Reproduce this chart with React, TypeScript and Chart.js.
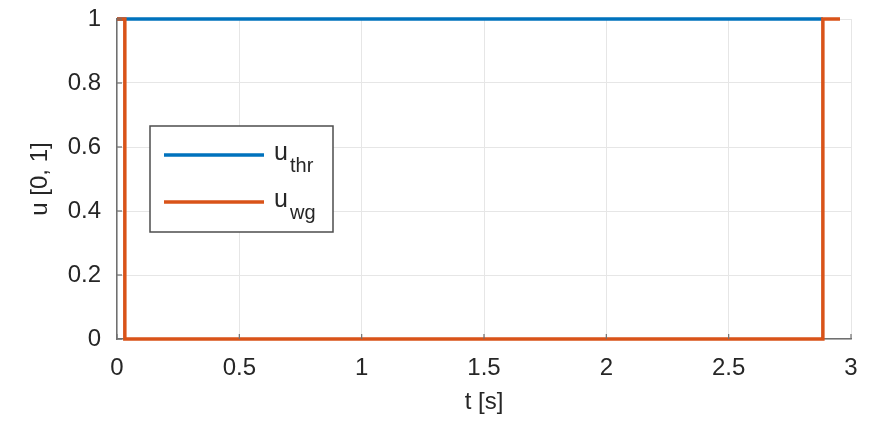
import React, { useEffect, useRef } from "react";
import { Chart, registerables } from "chart.js";

Chart.register(...registerables);

const thrTime = [0, 2.885];
const thrValue = [1, 1];
const wgTime = [0, 0.032, 0.032, 2.885, 2.885, 2.955];
const wgValue = [1, 1, 0, 0, 1, 1];
const xTicks = [0, 0.5, 1, 1.5, 2, 2.5, 3];
const yTicks = [0, 0.2, 0.4, 0.6, 0.8, 1];
const seriesNames = ["thr", "wg"];
const seriesColors = ["#0072BD", "#D95319"];

const FONT = "'Liberation Sans', Arial, Helvetica, sans-serif";
const TEXT = "#262626";

const extras = {
  id: "extras",
  afterDatasetsDraw(chart: any) {
    const { ctx, chartArea, scales } = chart;
    const xs = scales.x;
    const ys = scales.y;
    ctx.save();
    ctx.strokeStyle = "#707070";
    ctx.lineWidth = 1.2;
    xTicks.forEach((v) => {
      const px = xs.getPixelForValue(v);
      ctx.beginPath();
      ctx.moveTo(px, chartArea.bottom);
      ctx.lineTo(px, chartArea.bottom - 5);
      ctx.stroke();
    });
    yTicks.forEach((v) => {
      const py = ys.getPixelForValue(v);
      ctx.beginPath();
      ctx.moveTo(chartArea.left, py);
      ctx.lineTo(chartArea.left + 5, py);
      ctx.stroke();
    });
    const bx = 150, by = 126, bw = 183, bh = 106;
    ctx.fillStyle = "#ffffff";
    ctx.fillRect(bx, by, bw, bh);
    ctx.strokeStyle = "#4d4d4d";
    ctx.lineWidth = 1.5;
    ctx.strokeRect(bx, by, bw, bh);
    const rows = [155, 202];
    rows.forEach((ry, i) => {
      ctx.strokeStyle = seriesColors[i];
      ctx.lineWidth = 3.5;
      ctx.beginPath();
      ctx.moveTo(164, ry);
      ctx.lineTo(264, ry);
      ctx.stroke();
      ctx.fillStyle = TEXT;
      ctx.textBaseline = "alphabetic";
      ctx.textAlign = "left";
      ctx.font = `25px ${FONT}`;
      ctx.fillText("u", 274, ry + 5);
      ctx.font = `20px ${FONT}`;
      ctx.fillText(seriesNames[i], 290, ry + 17);
    });
    ctx.restore();
  },
};

export default function App() {
  const ref = useRef<HTMLCanvasElement>(null);
  useEffect(() => {
    const canvas = ref.current!;
    const mk = (ts: number[], vs: number[]) => ts.map((t, i) => ({ x: t, y: vs[i] }));
    const chart = new Chart(canvas, {
      type: "line",
      data: {
        datasets: [
          {
            label: "u_thr",
            data: mk(thrTime, thrValue),
            borderColor: seriesColors[0],
            borderWidth: 3.5,
            pointRadius: 0,
            tension: 0,
            order: 1,
            clip: 6,
          },
          {
            label: "u_wg",
            data: mk(wgTime, wgValue),
            borderColor: seriesColors[1],
            borderWidth: 3.5,
            pointRadius: 0,
            tension: 0,
            order: 0,
            clip: 6,
          },
        ],
      },
      options: {
        animation: false,
        responsive: false,
        maintainAspectRatio: false,
        layout: { padding: { top: 19, right: 23, left: 0, bottom: 0 } },
        plugins: { legend: { display: false }, tooltip: { enabled: false } },
        scales: {
          x: {
            type: "linear",
            min: 0,
            max: 3,
            afterFit: (s: any) => {
              s.height = 87;
              s.paddingLeft = 0;
              s.paddingRight = 0;
            },
            afterBuildTicks: (s: any) => {
              s.ticks = xTicks.map((v) => ({ value: v }));
            },
            ticks: {
              color: TEXT,
              font: { family: FONT, size: 24 },
              padding: 15,
              maxRotation: 0,
              callback: (v: any) => String(v),
            },
            grid: { color: "#e6e6e6", lineWidth: 1, drawTicks: false },
            border: { display: true, color: "#707070", width: 1.5 },
            title: {
              display: true,
              text: "t [s]",
              color: TEXT,
              font: { family: FONT, size: 24 },
              padding: { top: 0, bottom: 9 },
            },
          },
          y: {
            type: "linear",
            min: 0,
            max: 1,
            afterFit: (s: any) => {
              s.width = 117;
              s.paddingTop = 0;
              s.paddingBottom = 0;
            },
            afterBuildTicks: (s: any) => {
              s.ticks = yTicks.map((v) => ({ value: v }));
            },
            ticks: {
              color: TEXT,
              font: { family: FONT, size: 24 },
              padding: 16,
              callback: (v: any) => String(v),
            },
            grid: { color: "#e6e6e6", lineWidth: 1, drawTicks: false },
            border: { display: true, color: "#707070", width: 1.5 },
            title: {
              display: true,
              text: "u [0, 1]",
              color: TEXT,
              font: { family: FONT, size: 24 },
              padding: { top: 26, bottom: 0 },
            },
          },
        },
      },
      plugins: [extras],
    });
    return () => chart.destroy();
  }, []);
  return (
    <div style={{ position: "fixed", left: 0, top: 0, width: 874, height: 426, background: "#fff" }}>
      <canvas ref={ref} width={874} height={426} style={{ display: "block", width: 874, height: 426 }} />
    </div>
  );
}
